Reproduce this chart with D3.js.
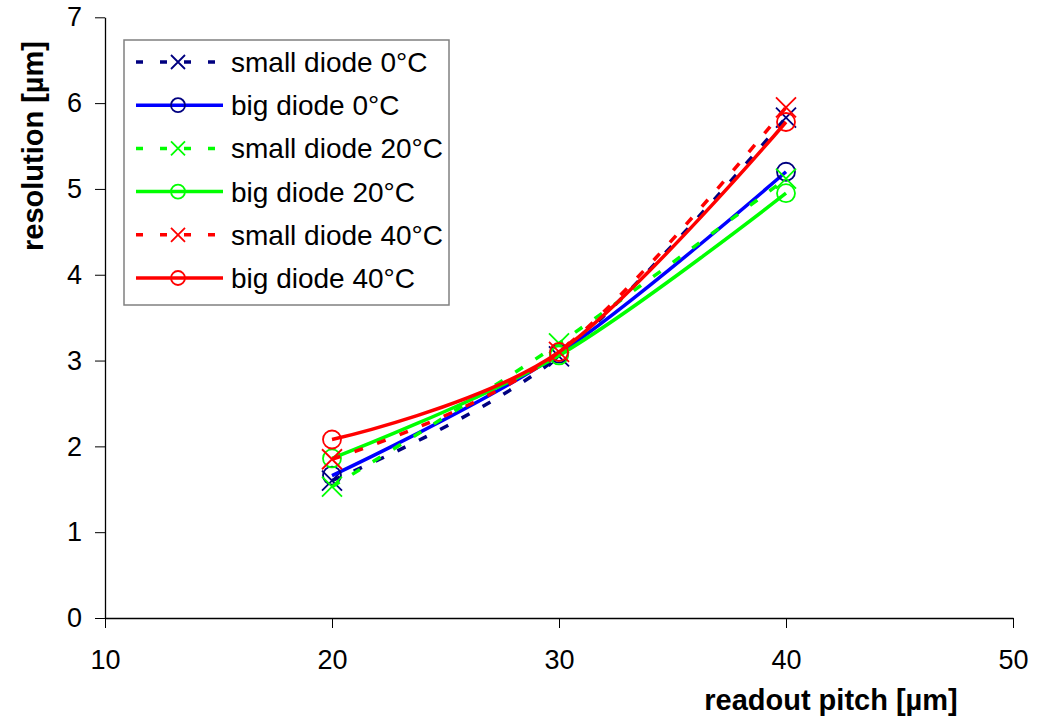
<!DOCTYPE html>
<html><head><meta charset="utf-8">
<script src="https://cdn.jsdelivr.net/npm/d3@7"></script>
<style>body{margin:0;background:#fff}svg{display:block}text{font-family:"Liberation Sans",Arial,sans-serif}</style>
</head><body>
<svg id="c" width="1043" height="718"></svg>
<script>
const pitches = [20, 30, 40];
const seriesNames = ["small diode 0°C","big diode 0°C","small diode 20°C","big diode 20°C","small diode 40°C","big diode 40°C"];
const small0 = [1.60, 3.05, 5.83];
const big0   = [1.66, 3.08, 5.20];
const small20= [1.53, 3.20, 5.12];
const big20  = [1.86, 3.06, 4.95];
const small40= [1.85, 3.10, 5.95];
const big40  = [2.08, 3.10, 5.78];
const xTicks = [10, 20, 30, 40, 50];
const yTicks = [0, 1, 2, 3, 4, 5, 6, 7];

const colors = ["#000080","#0000ff","#00ff00","#00ff00","#ff0000","#ff0000"];
const markerColors = ["#000080","#000080","#00ff00","#00ff00","#ff0000","#ff0000"];
const dashed = [true,false,true,false,true,false];
const markers = ["x","o","x","o","x","o"];
const values = [small0,big0,small20,big20,small40,big40];

const svg = d3.select("#c");
const x = d3.scaleLinear().domain([10,50]).range([105,1013]);
const y = d3.scaleLinear().domain([0,7]).range([618,17.3]);

// axes
const xa = svg.append("g").attr("transform","translate(0,618)")
  .call(d3.axisBottom(x).tickValues(xTicks).tickFormat(d3.format("d")).tickSize(10).tickPadding(22).tickSizeOuter(0));
const ya = svg.append("g").attr("transform","translate(105,0)")
  .call(d3.axisLeft(y).tickValues(yTicks).tickFormat(d3.format("d")).tickSize(10).tickPadding(13).tickSizeOuter(0));
[xa,ya].forEach(g=>{
  g.select(".domain").attr("stroke","#000").attr("stroke-width",1.3);
  g.selectAll(".tick line").attr("stroke","#000").attr("stroke-width",1);
  g.selectAll(".tick text").attr("font-size",27).attr("fill","#000")
   .attr("font-family","'Liberation Sans',Arial,sans-serif");
});

// titles
svg.append("text").attr("x",831).attr("y",710).attr("text-anchor","middle")
  .attr("font-size",29).attr("font-weight","bold").text("readout pitch [µm]");
svg.append("text").attr("transform","translate(43,146) rotate(-90)").attr("text-anchor","middle")
  .attr("font-size",29).attr("font-weight","bold").text("resolution [µm]");

const line = d3.line().x(d=>x(d[0])).y(d=>y(d[1])).curve(d3.curveCardinal.tension(0));

function drawMarker(g, type, cx, cy, color, s){
  if(type==="x"){
    g.append("path").attr("d",`M${cx-s},${cy-s}L${cx+s},${cy+s}M${cx-s},${cy+s}L${cx+s},${cy-s}`)
      .attr("stroke",color).attr("stroke-width",1.8).attr("fill","none");
  } else {
    g.append("circle").attr("cx",cx).attr("cy",cy).attr("r",s)
      .attr("stroke",color).attr("stroke-width",1.8).attr("fill","none");
  }
}

const plot = svg.append("g");
values.forEach((vals,i)=>{
  const pts = pitches.map((p,j)=>[p,vals[j]]);
  plot.append("path").attr("d",line(pts)).attr("fill","none")
    .attr("stroke",colors[i]).attr("stroke-width",3.5)
    .attr("stroke-dasharray",dashed[i]?"9,15":null);
  pts.forEach(d=>drawMarker(plot, markers[i], x(d[0]), y(d[1]), markerColors[i], markers[i]==="x"?10:9));
});

// legend
const lg = svg.append("g");
lg.append("rect").attr("x",124).attr("y",40).attr("width",325).attr("height",265)
  .attr("fill","#fff").attr("stroke","#808080").attr("stroke-width",1.5);
seriesNames.forEach((name,i)=>{
  const cy = 62 + i*43.2;
  lg.append("line").attr("x1",136).attr("x2",223).attr("y1",cy).attr("y2",cy)
    .attr("stroke",colors[i]).attr("stroke-width",3.5)
    .attr("stroke-dasharray",dashed[i]?"7,17":null);
  drawMarker(lg, markers[i], 178, cy, markerColors[i], 7);
  lg.append("text").attr("x",231).attr("y",cy).attr("dy","0.36em")
    .attr("font-size",28).attr("fill","#000").text(name);
});
</script>
</body></html>
